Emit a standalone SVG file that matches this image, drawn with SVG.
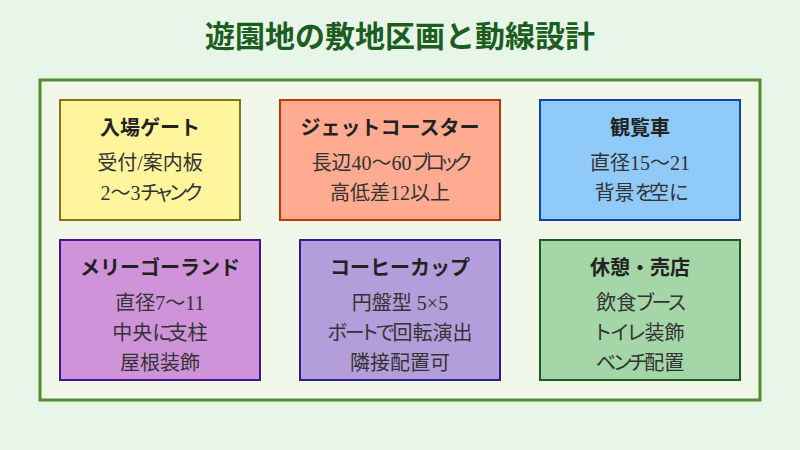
<svg xmlns="http://www.w3.org/2000/svg" width="800" height="450" viewBox="0 0 800 450">
<style>
text{text-anchor:middle;font-family:"Liberation Serif","Noto Sans CJK JP",serif}
.h{font-family:"Liberation Sans","Noto Sans CJK JP",sans-serif;font-weight:700;font-size:20px;fill:#222}
.b{font-size:20px;fill:#333;font-feature-settings:"palt"}
rect{stroke-width:2}
</style>
<rect width="800" height="450" fill="#e8f5e9"/>
<text x="400" y="47" style="font-family:'Liberation Sans','Noto Sans CJK JP',sans-serif;font-weight:700;font-size:30px;fill:#1b5e20">遊園地の敷地区画と動線設計</text>
<rect id="site" x="40" y="80" width="720" height="320" fill="#f1f8e9" stroke="#558b2f" style="stroke-width:3"/>
<g id="gate"><rect x="60" y="100" width="180" height="120" fill="#fff59d" stroke="#827717"/><text class="h" x="150" y="135">入場ゲート</text><text class="b" x="150" y="170">受付/案内板</text><text class="b" x="150" y="200">2〜3<tspan letter-spacing="-2.75">チャンク</tspan></text></g>
<g id="coaster"><rect x="280" y="100" width="220" height="120" fill="#ffab91" stroke="#bf360c"/><text class="h" x="390" y="135">ジェットコースター</text><text class="b" x="390" y="170">長辺40〜60<tspan letter-spacing="-3.5">ブロック</tspan></text><text class="b" x="390" y="200">高低差12以上</text></g>
<g id="wheel"><rect x="540" y="100" width="200" height="120" fill="#90caf9" stroke="#0d47a1"/><text class="h" x="640" y="135">観覧車</text><text class="b" x="640" y="170">直径15〜21</text><text class="b" x="640" y="200">背景<tspan letter-spacing="-4">を</tspan>空<tspan letter-spacing="-3">に</tspan></text></g>
<g id="merry"><rect x="60" y="240" width="200" height="140" fill="#ce93d8" stroke="#4a148c"/><text class="h" x="160" y="275">メリーゴーランド</text><text class="b" x="160" y="310">直径7〜11</text><text class="b" x="160" y="340">中央<tspan letter-spacing="-4">に</tspan>支柱</text><text class="b" x="160" y="370">屋根装飾</text></g>
<g id="cup"><rect x="300" y="240" width="200" height="140" fill="#b39ddb" stroke="#311b92"/><text class="h" x="400" y="275">コーヒーカップ</text><text class="b" x="400" y="310">円盤型 5×5</text><text class="b" x="400" y="340"><tspan letter-spacing="-2">ボートで</tspan>回転演出</text><text class="b" x="400" y="370">隣接配置可</text></g>
<g id="rest"><rect x="540" y="240" width="200" height="140" fill="#a5d6a7" stroke="#1b5e20"/><text class="h" x="640" y="275">休憩・売店</text><text class="b" x="640" y="310">飲食<tspan letter-spacing="-2.3">ブース</tspan></text><text class="b" x="640" y="340"><tspan letter-spacing="-0.6">トイレ</tspan>装飾</text><text class="b" x="640" y="370"><tspan letter-spacing="-2.7">ベンチ</tspan>配置</text></g>
<g id="connectors"/>
</svg>
